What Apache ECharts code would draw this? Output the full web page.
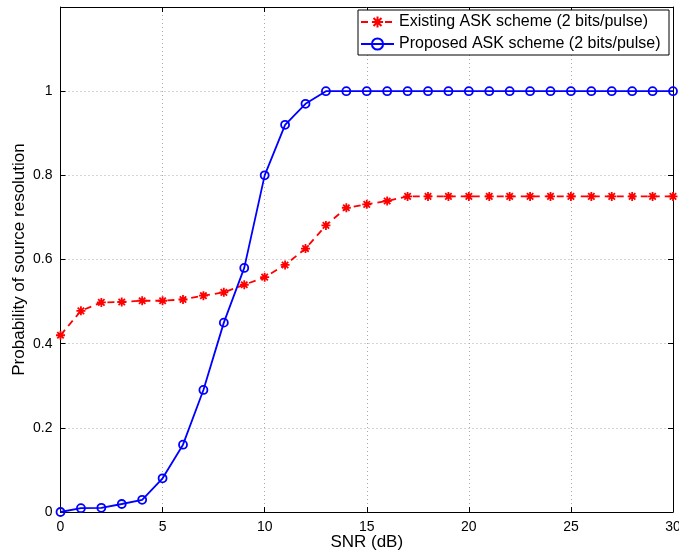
<!DOCTYPE html>
<html>
<head>
<meta charset="utf-8">
<script src="https://cdn.jsdelivr.net/npm/echarts@6/dist/echarts.min.js"></script>
<style>
  html, body { margin: 0; padding: 0; background: #fff; }
  #chart { width: 679px; height: 554px; }
</style>
</head>
<body>
<div id="chart"></div>
<script>
// SNR sweep in dB
const snr = [0,1,2,3,4,5,6,7,8,9,10,11,12,13,14,15,16,17,18,19,20,21,22,23,24,25,26,27,28,29,30];

// Probability of source resolution, existing ASK scheme (2 bits/pulse)
const existing = [0.42,0.478,0.498,0.499,0.502,0.502,0.505,0.514,0.522,0.54,0.558,0.587,0.626,0.681,0.723,0.731,0.739,0.75,0.75,0.75,0.75,0.75,0.75,0.75,0.75,0.75,0.75,0.75,0.75,0.75,0.75];

// Probability of source resolution, proposed ASK scheme (2 bits/pulse)
const proposed = [0,0.009,0.01,0.019,0.029,0.08,0.16,0.29,0.45,0.58,0.80,0.92,0.97,1,1,1,1,1,1,1,1,1,1,1,1,1,1,1,1,1,1];

const seriesNames = ['Existing ASK scheme (2 bits/pulse)', 'Proposed ASK scheme (2 bits/pulse)'];
const xTicks = [0, 5, 10, 15, 20, 25, 30];
const yTickLabels = ['0', '0.2', '0.4', '0.6', '0.8', '1'];

const FONT = 'Liberation Sans, Arial, Helvetica, sans-serif';
const asterisk = 'path://M0,-10L0,10M-10,0L10,0M-7.1,-7.1L7.1,7.1M-7.1,7.1L7.1,-7.1';

const pairs = ys => snr.map((x, i) => [x, ys[i]]);

const chart = echarts.init(document.getElementById('chart'), null, { renderer: 'canvas' });

// Mirror axes on the top and right close the box and carry inward ticks
const boxAxis = {
  axisLine: { show: true, onZero: false, lineStyle: { color: '#000', width: 1 } },
  axisTick: { show: true, inside: true, length: 5, lineStyle: { color: '#000' } },
  axisLabel: { show: false },
  splitLine: { show: false }
};

chart.setOption({
  animation: false,
  backgroundColor: '#fff',
  grid: { left: 60.5, right: 6, top: 7, bottom: 42, containLabel: false, outerBoundsMode: 'none' },
  legend: {
    orient: 'vertical',
    left: 358,
    top: 10,
    padding: [4, 2, 3, 2],
    itemGap: 6,
    itemWidth: 33,
    itemHeight: 14,
    backgroundColor: '#fff',
    borderColor: '#000',
    borderWidth: 1,
    borderRadius: 0,
    textStyle: { fontFamily: FONT, fontSize: 16, lineHeight: 16, color: '#000', width: 268 },
    data: seriesNames
  },
  xAxis: [
    {
      type: 'value', min: 0, max: 30, interval: 5, position: 'bottom',
      name: 'SNR (dB)', nameLocation: 'middle', nameGap: 22, nameMoveOverlap: false,
      nameTextStyle: { fontFamily: FONT, fontSize: 17, color: '#000' },
      axisLine: { show: true, onZero: false, lineStyle: { color: '#000', width: 1 } },
      axisTick: { show: true, inside: true, length: 5, lineStyle: { color: '#000' } },
      axisLabel: {
        fontFamily: FONT, fontSize: 14, color: '#000', margin: 8,
        formatter: v => (xTicks.indexOf(v) >= 0 ? String(v) : '')
      },
      splitLine: { show: true, lineStyle: { color: '#a8a8a8', type: [1, 3], width: 1 } }
    },
    Object.assign({ type: 'value', min: 0, max: 30, interval: 5, position: 'top' }, boxAxis)
  ],
  yAxis: [
    {
      type: 'value', min: 0, max: 1.2, interval: 0.2, position: 'left',
      name: 'Probability of source resolution', nameLocation: 'middle', nameGap: 33, nameMoveOverlap: false,
      nameTextStyle: { fontFamily: FONT, fontSize: 17, color: '#000' },
      axisLine: { show: true, onZero: false, lineStyle: { color: '#000', width: 1 } },
      axisTick: { show: true, inside: true, length: 5, lineStyle: { color: '#000' } },
      axisLabel: {
        fontFamily: FONT, fontSize: 14, color: '#000', margin: 8,
        formatter: v => {
          const k = Math.round(v / 0.2);
          return k < yTickLabels.length ? yTickLabels[k] : '';
        }
      },
      splitLine: { show: true, lineStyle: { color: '#a8a8a8', type: [1, 3], width: 1 } }
    },
    Object.assign({ type: 'value', min: 0, max: 1.2, interval: 0.2, position: 'right' }, boxAxis)
  ],
  series: [
    {
      name: seriesNames[0],
      type: 'line',
      data: pairs(existing),
      symbol: asterisk,
      symbolSize: 9,
      showAllSymbol: true,
      lineStyle: { color: '#ff0000', width: 1.8, type: [7, 5] },
      itemStyle: { color: '#ff0000', borderColor: '#ff0000', borderWidth: 1.8 },
      z: 3
    },
    {
      name: seriesNames[1],
      type: 'line',
      data: pairs(proposed),
      symbol: 'circle',
      symbolSize: 8,
      showAllSymbol: true,
      lineStyle: { color: '#0000ff', width: 1.8 },
      itemStyle: { color: 'rgba(0,0,0,0)', borderColor: '#0000ff', borderWidth: 1.8 },
      z: 4
    }
  ]
});
</script>
</body>
</html>
